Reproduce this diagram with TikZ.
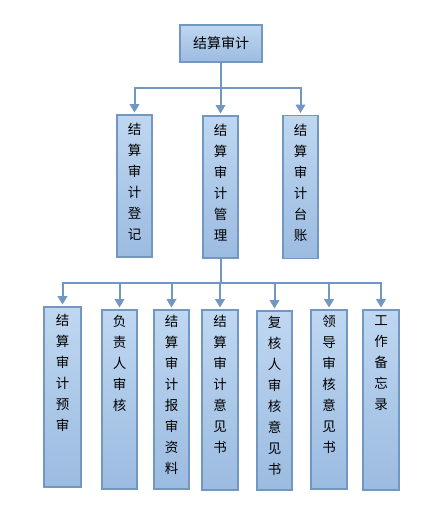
\documentclass[tikz,border=0pt]{standalone}
\usepackage{fontspec}
\newfontfamily\cjk{Noto Sans CJK SC}
\usetikzlibrary{arrows.meta}
\definecolor{boxline}{RGB}{114,152,194}
\definecolor{boxtop}{RGB}{191,215,241}
\definecolor{boxbot}{RGB}{155,187,224}
\begin{document}
\begin{tikzpicture}[x=1pt,y=-1pt,
  box/.style={draw=boxline, line width=1.8pt, top color=boxtop, bottom color=boxbot, inner sep=0pt, minimum width=35pt},
  lbl/.style={font=\cjk\fontsize{13.5}{21}\selectfont, align=center, inner sep=0pt, anchor=north},
  conn/.style={draw=boxline, line width=2pt},
  arr/.style={conn, -{Triangle[width=9.5pt,length=8.5pt]}, shorten >=1.5pt}]
\useasboundingbox (0,0) rectangle (443,511);
% top
\node[box, minimum width=82pt, minimum height=37pt, font=\cjk\fontsize{14}{16}\selectfont] (top) at (221,43.5) {结算审计};
% middle
\node[box, minimum height=142pt] (m1) at (134.5,186) {};
\node[box, minimum height=142pt] (m2) at (220.5,187) {};
\node[box, minimum height=143pt] (m3) at (300.5,187) {};
\node[lbl] (m1t) at ([yshift=-9pt]m1.north) {结\\算\\审\\计\\登\\记};
\node[lbl] (m2t) at ([yshift=-9pt]m2.north) {结\\算\\审\\计\\管\\理};
\node[lbl] (m3t) at ([yshift=-9pt]m3.north) {结\\算\\审\\计\\台\\账};
% bottom
\node[box, minimum width=37pt, minimum height=180pt] (b1) at (62.5,397) {};
\node[box, minimum height=179pt] (b2) at (119.5,399.5) {};
\node[box, minimum height=179pt] (b3) at (171.5,399.5) {};
\node[box, minimum width=36pt, minimum height=180pt] (b4) at (220,400) {};
\node[box, minimum height=179pt] (b5) at (274.5,400.5) {};
\node[box, minimum width=36pt, minimum height=179pt] (b6) at (329,399.5) {};
\node[box, minimum width=36pt, minimum height=180pt] (b7) at (381,400) {};
\node[lbl] (b1t) at ([yshift=-8pt]b1.north) {结\\算\\审\\计\\预\\审};
\node[lbl] (b2t) at ([yshift=-6pt]b2.north) {负\\责\\人\\审\\核};
\node[lbl] (b3t) at ([yshift=-6pt]b3.north) {结\\算\\审\\计\\报\\审\\资\\料};
\node[lbl] (b4t) at ([yshift=-6pt]b4.north) {结\\算\\审\\计\\意\\见\\书};
\node[lbl] (b5t) at ([yshift=-6pt]b5.north) {复\\核\\人\\审\\核\\意\\见\\书};
\node[lbl] (b6t) at ([yshift=-6pt]b6.north) {领\\导\\审\\核\\意\\见\\书};
\node[lbl] (b7t) at ([yshift=-6pt]b7.north) {工\\作\\备\\忘\\录};
% connectors
\coordinate (bus1) at (221,88);
\draw[conn] (top.south) -- (bus1);
\draw[arr] (bus1) -| (m1.north);
\draw[arr] (bus1) -| (m2.north);
\draw[arr] (bus1) -| (m3.north);
\coordinate (bus2) at (220.5,283);
\draw[conn] (m2.south) -- (bus2);
\foreach \b in {b1,b2,b3,b4,b5,b6,b7} {
  \draw[arr] (bus2) -| (\b.north);
}
\end{tikzpicture}
\end{document}
